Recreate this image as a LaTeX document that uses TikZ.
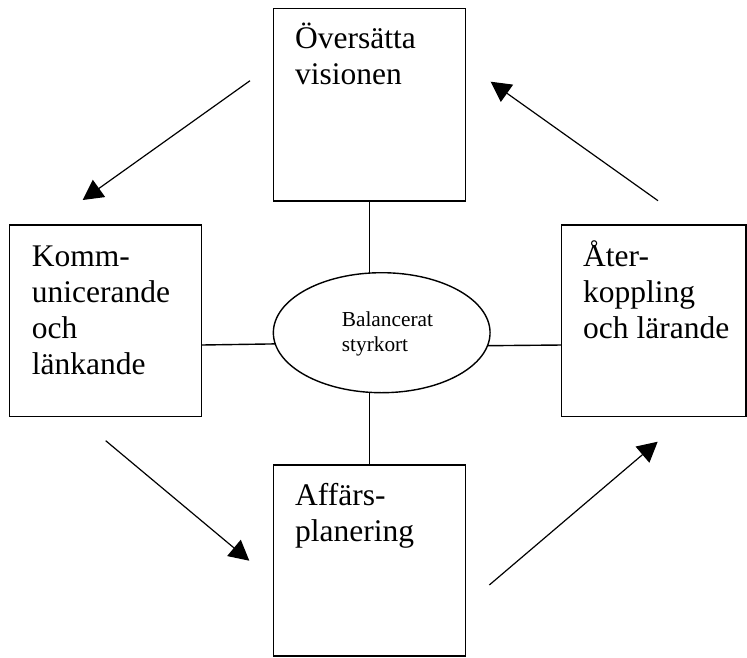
\documentclass[tikz,border=0pt]{standalone}
\usepackage{fontspec}
\setmainfont{Liberation Serif}
\usetikzlibrary{arrows.meta,shapes.geometric}
\begin{document}
\begin{tikzpicture}[x=1pt,y=-1pt,
  stage/.style={draw, line width=1.5pt, rectangle, inner sep=0pt, outer sep=0pt},
  stagetext/.style={anchor=base west, inner sep=0pt, align=left,
    font=\fontsize{31.5}{36.3}\selectfont},
  hubtext/.style={anchor=base west, inner sep=0pt, align=left,
    font=\fontsize{21.3}{25.7}\selectfont},
  link/.style={line width=1.4pt},
  flow/.style={line width=1.2pt, -{Triangle[length=20pt,width=21pt]}}]
\useasboundingbox (0,0) rectangle (747,657);

% the four stages
\node[stage, minimum width=192.4pt, minimum height=192.7pt] (top) at (369.5,104.65) {};
\node[stage, minimum width=192.4pt, minimum height=191.7pt] (left) at (105.5,320.85) {};
\node[stage, minimum width=184.4pt, minimum height=191.7pt] (right) at (653.9,320.85) {};
\node[stage, minimum width=192.4pt, minimum height=191pt] (bot) at (369.5,560.5) {};

% the hub
\node[draw, ellipse, line width=1.4pt, inner sep=0pt, outer sep=0pt,
  minimum width=216.7pt, minimum height=120pt] (ell) at (381.7,332.7) {};
% (base anchor of a multi-line node sits on its last line)
\node[hubtext] (hubt) at (341.7,351.7) {Balancerat\\styrkort};

% stage labels
\node[stagetext] (topt) at (295,84.6) {Översätta\\visionen};
\node[stagetext] (leftt) at (31.7,374.9) {Komm-\\unicerande\\och\\länkande};
\node[stagetext] (rightt) at (583,338.6) {Åter-\\koppling\\och lärande};
\node[stagetext] (bott) at (295,541.3) {Affärs-\\planering};

% spokes from the hub
\coordinate (hl) at (0,345);
\draw[link] (top.south) -- (top.south |- ell.north);
\draw[link] (bot.north) -- (bot.north |- ell.south);
\draw[link] (left.east |- hl) -- (ell.186.6);
\draw[link] (ell.353.4) -- (right.west |- hl);

% the cycle
\coordinate (a1s) at (250,80.7);    \coordinate (a1e) at (82.7,200);
\coordinate (a2s) at (658,200.7);   \coordinate (a2e) at (490.7,81.7);
\coordinate (a3s) at (105.7,440.7); \coordinate (a3e) at (249.3,560.7);
\coordinate (a4s) at (489.3,585);   \coordinate (a4e) at (657.7,441.7);
\draw[flow] (a1s) -- (a1e);
\draw[flow] (a2s) -- (a2e);
\draw[flow] (a3s) -- (a3e);
\draw[flow] (a4s) -- (a4e);
\end{tikzpicture}
\end{document}
